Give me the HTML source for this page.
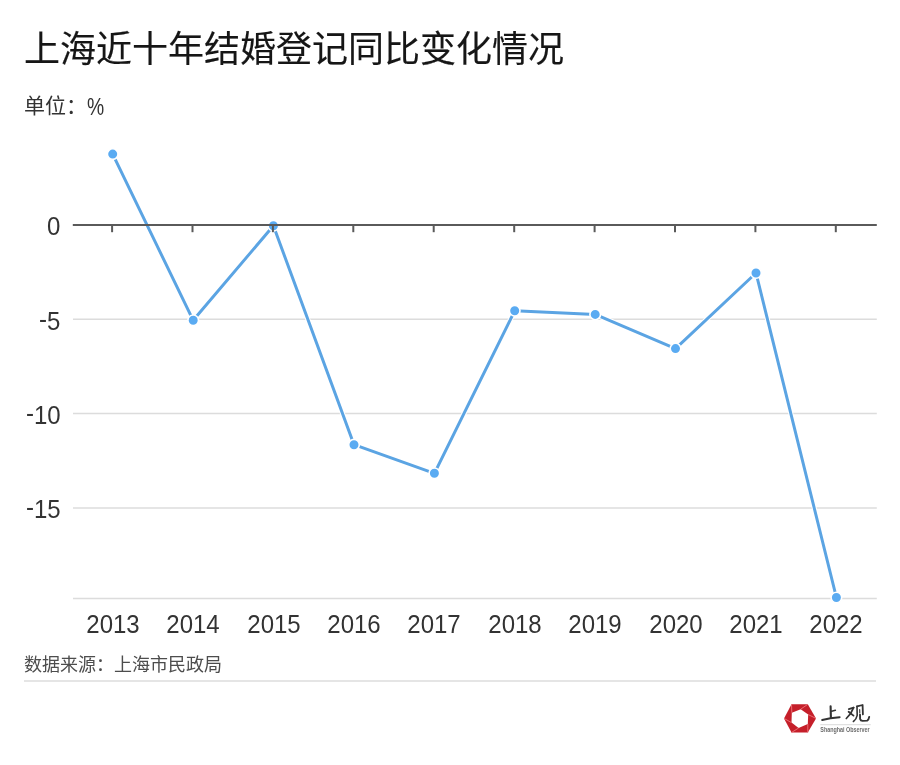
<!DOCTYPE html>
<html lang="zh-CN">
<head>
<meta charset="utf-8">
<style>
html,body{margin:0;padding:0;background:#fff;}
.t,.yl,.xl,svg{will-change:transform;}
body{width:900px;height:765px;position:relative;overflow:hidden;font-family:"Liberation Sans",sans-serif;}
.t{position:absolute;white-space:nowrap;line-height:1;}
#title{left:24px;top:32px;font-size:36px;color:#161616;-webkit-text-stroke:0.15px #161616;}
#unit{left:24px;top:95px;font-size:21px;color:#333;}
.yl{position:absolute;right:839.5px;font-size:24px;line-height:1;color:#333;text-align:right;white-space:nowrap;transform:scaleY(1.05);}
.xl{position:absolute;width:80px;font-size:24px;line-height:1;color:#333;text-align:center;top:613px;transform:scaleY(1.05);}
#src{left:24px;top:655.5px;font-size:18px;color:#4d4d4d;}
svg{position:absolute;left:0;top:0;}
.m{position:relative;top:-2.5px;}
</style>
</head>
<body>
<div class="t" id="title">上海近十年结婚登记同比变化情况</div>
<div class="t" id="unit">单位：<span style="display:inline-block;transform:translateY(1.5px) scale(0.92,1.16);transform-origin:0 80%">%</span></div>

<svg width="900" height="765" viewBox="0 0 900 765">
  <g stroke="#dcdcdc" stroke-width="1.5">
    <line x1="73" y1="319.3" x2="876.8" y2="319.3"/>
    <line x1="73" y1="413.6" x2="876.8" y2="413.6"/>
    <line x1="73" y1="507.9" x2="876.8" y2="507.9"/>
    <line x1="73" y1="598.4" x2="876.8" y2="598.4"/>
  </g>
  <polyline fill="none" stroke="#fff" stroke-width="5" stroke-linejoin="round" points="112.7,154.1 193.2,320.3 273.4,225.8 354,444.7 434.4,473.3 514.7,310.8 595.2,314.4 675.5,348.6 756,273 836.4,597.5"/>
  <polyline fill="none" stroke="#5ba4e3" stroke-width="3" stroke-linejoin="round"
    points="112.7,154.1 193.2,320.3 273.4,225.8 354,444.7 434.4,473.3 514.7,310.8 595.2,314.4 675.5,348.6 756,273 836.4,597.5"/>
  <g fill="#5aabf2" stroke="#fff" stroke-width="1.6">
    <circle cx="112.7" cy="154.1" r="5.3"/>
    <circle cx="193.2" cy="320.3" r="5.3"/>
    <circle cx="273.4" cy="225.8" r="5.3"/>
    <circle cx="354" cy="444.7" r="5.3"/>
    <circle cx="434.4" cy="473.3" r="5.3"/>
    <circle cx="514.7" cy="310.8" r="5.3"/>
    <circle cx="595.2" cy="314.4" r="5.3"/>
    <circle cx="675.5" cy="348.6" r="5.3"/>
    <circle cx="756" cy="273" r="5.3"/>
    <circle cx="836.4" cy="597.5" r="5.3"/>
  </g>
  <g stroke="#5a5a5a" stroke-width="2">
    <line x1="72.8" y1="225" x2="876.8" y2="225"/>
    <line x1="112.1" y1="225" x2="112.1" y2="232.2"/>
    <line x1="192.5" y1="225" x2="192.5" y2="232.2"/>
    <line x1="272.9" y1="225" x2="272.9" y2="232.2"/>
    <line x1="353.3" y1="225" x2="353.3" y2="232.2"/>
    <line x1="433.7" y1="225" x2="433.7" y2="232.2"/>
    <line x1="514.2" y1="225" x2="514.2" y2="232.2"/>
    <line x1="594.6" y1="225" x2="594.6" y2="232.2"/>
    <line x1="675.0" y1="225" x2="675.0" y2="232.2"/>
    <line x1="755.4" y1="225" x2="755.4" y2="232.2"/>
    <line x1="835.8" y1="225" x2="835.8" y2="232.2"/>
  </g>
  <line x1="24" y1="681" x2="876" y2="681" stroke="#dcdcdc" stroke-width="1.5"/>
  <!-- logo -->
  <g>
    <polygon fill="#c51f2a" points="791.5,704.3 807.8,704.3 816,718.4 807.8,732.5 791.5,732.5 784,718.4"/>
    <polygon fill="#fff" points="791.8,712.7 800.7,709.2 808.2,714.6 807.8,724 798.6,728 791.5,722.6"/>
    <g stroke="#ef7479" stroke-width="0.9">
      <line x1="791.8" y1="712.7" x2="791.5" y2="704.3"/>
      <line x1="800.7" y1="709.2" x2="807.8" y2="704.3"/>
      <line x1="808.2" y1="714.6" x2="816" y2="718.4"/>
      <line x1="807.8" y1="724" x2="807.8" y2="732.5"/>
      <line x1="798.6" y1="728" x2="791.5" y2="732.5"/>
      <line x1="791.5" y1="722.6" x2="784" y2="718.4"/>
    </g>
    <g fill="none" stroke="#333" stroke-linecap="round" stroke-linejoin="round">
      <!-- 上 -->
      <path d="M830.6 706.3 L830.9 717.6" stroke-width="2.1"/>
      <path d="M831.6 711.2 L835.4 710.3" stroke-width="1.5"/>
      <path d="M822.2 719.9 Q830 717.9 839.6 717.2" stroke-width="2.1"/>
      <!-- 观 -->
      <path d="M848.8 709.1 L853.6 707.6" stroke-width="1.8"/>
      <path d="M853.6 707.6 Q851.5 713.5 846.3 718.5" stroke-width="1.7"/>
      <path d="M848.6 711.7 L853.5 715.6" stroke-width="1.8"/>
      <path d="M857 706.4 L857.2 715.3 Q856.3 719.4 853.4 721.5" stroke-width="1.6"/>
      <path d="M857 706.4 L862.6 705 L862.9 714.4" stroke-width="1.8"/>
      <path d="M859.7 709.6 L859.8 712.9" stroke-width="1.1"/>
      <path d="M860 714.6 L860.1 719 Q860.6 720.8 862.5 720.9 L867.3 720.6 Q868.8 719.5 869.2 716.9" stroke-width="1.9"/>
    </g>
    <line x1="820.3" y1="724.7" x2="870.7" y2="724.7" stroke="#cfcfcf" stroke-width="0.8"/>
    <text x="820.3" y="732" font-family="Liberation Sans" font-size="6.3" font-weight="bold" fill="#6c6c6c" textLength="49.4" lengthAdjust="spacingAndGlyphs">Shanghai Observer</text>
  </g>
</svg>

<div class="yl" style="top:214.5px">0</div>
<div class="yl" style="top:309.5px"><span class="m">-</span>5</div>
<div class="yl" style="top:403.5px"><span class="m">-</span>10</div>
<div class="yl" style="top:497.5px"><span class="m">-</span>15</div>

<div class="xl" style="left:72.7px">2013</div>
<div class="xl" style="left:153.1px">2014</div>
<div class="xl" style="left:233.5px">2015</div>
<div class="xl" style="left:313.9px">2016</div>
<div class="xl" style="left:394.3px">2017</div>
<div class="xl" style="left:474.8px">2018</div>
<div class="xl" style="left:555.2px">2019</div>
<div class="xl" style="left:635.6px">2020</div>
<div class="xl" style="left:716px">2021</div>
<div class="xl" style="left:796.4px">2022</div>

<div class="t" id="src">数据来源：上海市民政局</div>

</body>
</html>
